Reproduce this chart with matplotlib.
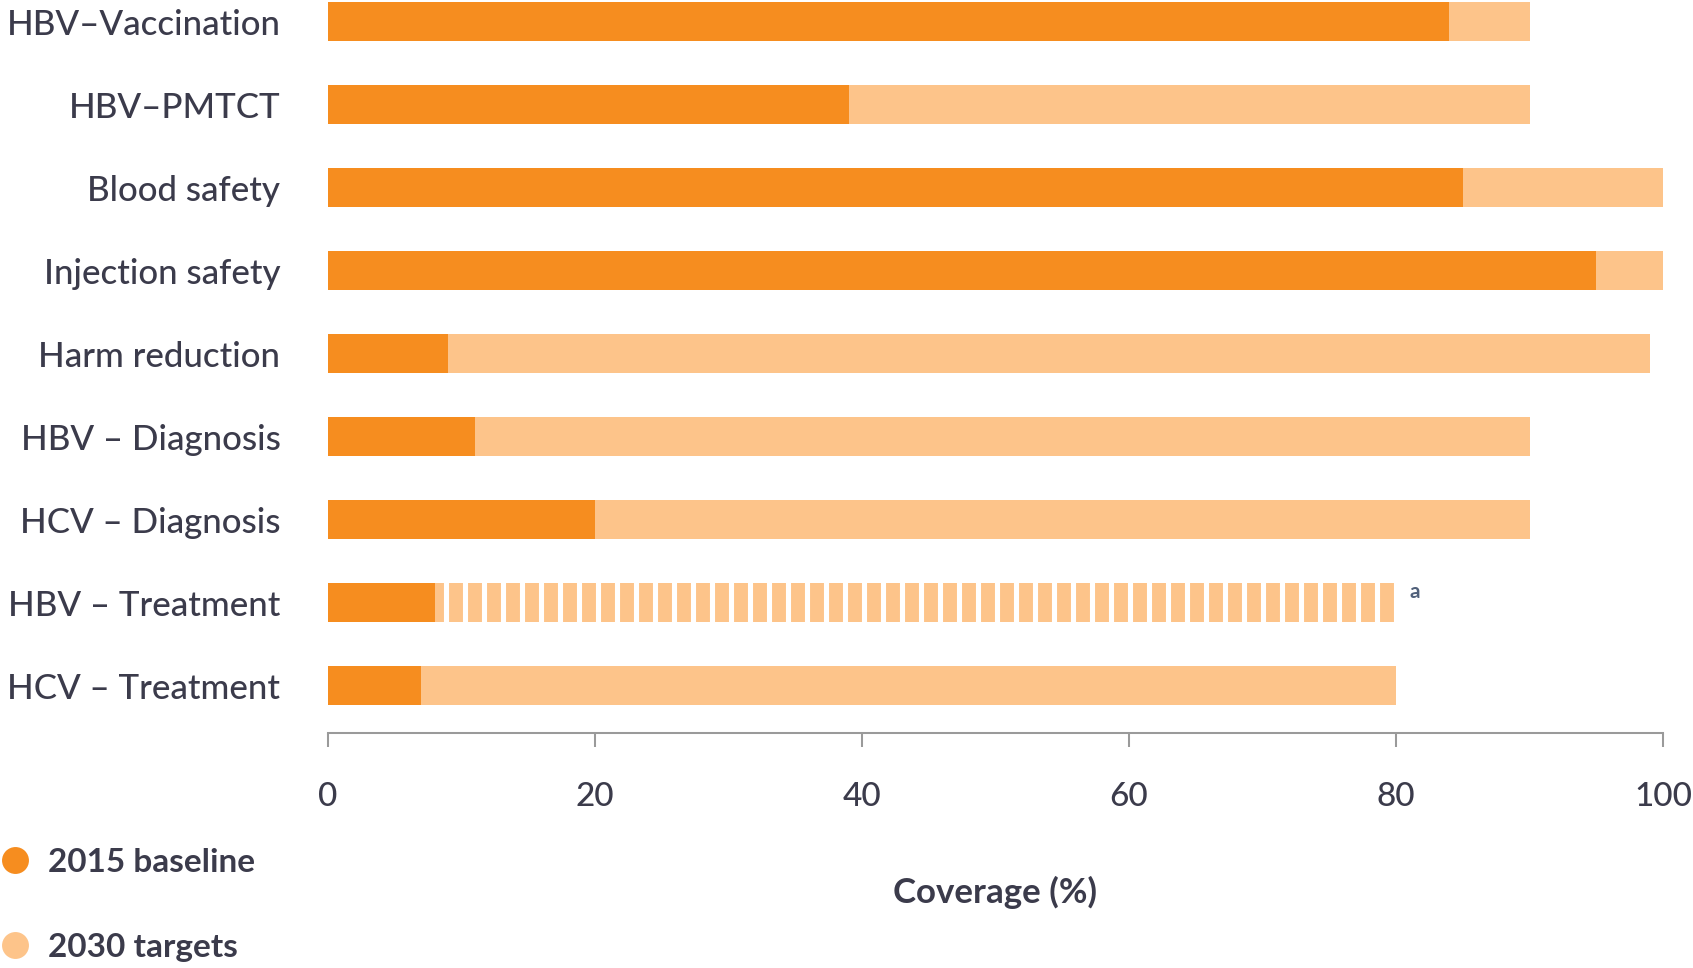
#!/usr/bin/env python3
"""
Coverage: 2015 baseline vs 2030 targets, horizontal bars
"""

import matplotlib
matplotlib.use('Agg')
import matplotlib.pyplot as plt
from matplotlib.lines import Line2D

plt.rcParams['font.family'] = ['Lato', 'DejaVu Sans']
plt.rcParams['hatch.linewidth'] = 3.2

categories = ['HBV–Vaccination', 'HBV–PMTCT', 'Blood safety', 'Injection safety',
              'Harm reduction', 'HBV – Diagnosis', 'HCV – Diagnosis',
              'HBV – Treatment', 'HCV – Treatment']
baseline_2015 = [84, 39, 85, 95, 9, 11, 20, 8, 7]
targets_2030 = [90, 90, 100, 100, 99, 90, 90, 80, 80]
dashed_rows = ['HBV – Treatment']   # target drawn as segmented bar
footnote = {'HBV – Treatment': 'a'}
xticks = [0, 20, 40, 60, 80, 100]

DARK = '#F68D1F'
LIGHT = '#FDC48A'
TEXT = '#3B3B4B'
DPI = 114

fig = plt.figure(figsize=(1693 / DPI, 968 / DPI), dpi=DPI, facecolor='white')
ax = fig.add_axes([0.1937, 0.2428, 0.7886, 0.7572])

ypos = list(range(len(categories)))
for y, cat, base, tgt in zip(ypos, categories, baseline_2015, targets_2030):
    if cat in dashed_rows:
        ax.barh(y, tgt, height=0.47, color=LIGHT, edgecolor='white',
                linewidth=0, hatch='|')
    else:
        ax.barh(y, tgt, height=0.47, color=LIGHT, linewidth=0)
    ax.barh(y, base, height=0.47, color=DARK, linewidth=0)
    if cat in footnote:
        ax.text(tgt + 1.0, y - 0.13, footnote[cat], fontsize=13, color='#50607A',
                ha='left', va='center', fontweight='bold')

ax.set_xlim(0, 100)
ax.set_ylim(8.566, -0.26)
ax.set_yticks(ypos)
ax.set_yticklabels(categories, fontsize=22, color=TEXT, fontweight='medium')
ax.tick_params(axis='y', length=0, pad=30)
ax.set_xticks(xticks)
ax.tick_params(axis='x', direction='out', length=9, width=1.3, color='#9A9A9A',
               labelsize=21, labelcolor=TEXT, pad=22)
for lbl in ax.get_xticklabels():
    lbl.set_fontweight('medium')

for s in ['top', 'right', 'left']:
    ax.spines[s].set_visible(False)
ax.spines['bottom'].set_color('#9A9A9A')
ax.spines['bottom'].set_linewidth(1.3)

ax.set_xlabel('Coverage (%)', fontsize=22, fontweight='bold', color=TEXT, labelpad=40)

handles = [Line2D([], [], marker='o', linestyle='none', markersize=17,
                  markerfacecolor=DARK, markeredgewidth=0),
           Line2D([], [], marker='o', linestyle='none', markersize=17,
                  markerfacecolor=LIGHT, markeredgewidth=0)]
fig.legend(handles, ['2015 baseline', '2030 targets'], loc='upper left',
           bbox_to_anchor=(-0.009, 0.138), frameon=False, handletextpad=0.5,
           labelspacing=1.68, prop={'size': 21, 'weight': 'bold'},
           labelcolor=TEXT, handlelength=1.0, borderaxespad=0)

plt.savefig('out.png', dpi=DPI, facecolor='white')
plt.close()
